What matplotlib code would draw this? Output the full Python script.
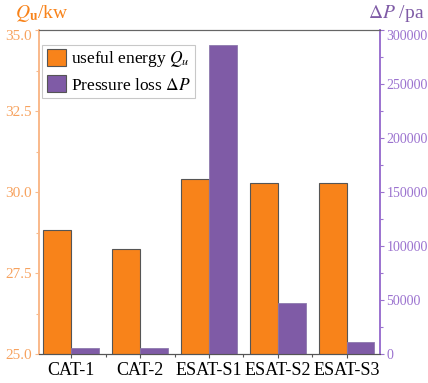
import numpy as np
import matplotlib.pyplot as plt
from matplotlib.patches import Patch

plt.rcParams["font.family"] = ["Liberation Serif", "DejaVu Serif"]
plt.rcParams["mathtext.fontset"] = "stix"

# Datos de los cinco casos
cases = ["CAT-1", "CAT-2", "ESAT-S1", "ESAT-S2", "ESAT-S3"]
useful_energy = [28.83, 28.24, 30.40, 30.27, 30.27]  # kW
pressure_loss = [5500, 5500, 286000, 47000, 11000]  # Pa

orange = "#F8831A"
purple = "#7F5BA6"
orange_axis = "#F9B98A"
orange_text = "#F7A25E"
purple_axis = "#9B72CF"
edge = "#555555"

fig = plt.figure(figsize=(4.28, 3.83), dpi=100)
ax = fig.add_axes([39 / 428, 29 / 383, 341 / 428, 324 / 383])
ax2 = ax.twinx()

x = np.arange(len(cases))
width = 0.4

ax.bar(x - width / 2, useful_energy, width, color=orange, edgecolor=edge, linewidth=0.8)
ax2.bar(x + width / 2, pressure_loss, width, color=purple, edgecolor="#8E7AAE", linewidth=0.6)

ax.set_xlim(-0.465, 4.48)
ax.set_ylim(25, 35)
ax2.set_ylim(0, 300000)

ax.set_xticks(x)
ax.set_xticklabels(cases, fontsize=13)
ax.set_xticks(x[:-1] + 0.5, minor=True)

ax.set_yticks([25.0, 27.5, 30.0, 32.5, 35.0])
ax.set_yticklabels(["25.0", "27.5", "30.0", "32.5", "35.0"], fontsize=11)
ax.set_yticks(np.arange(25, 35.1, 1.25), minor=True)
ax2.set_yticks(np.arange(0, 300001, 50000))
ax2.set_yticklabels([str(v) for v in range(0, 300001, 50000)], fontsize=10)
ax2.set_yticks(np.arange(0, 300001, 25000), minor=True)

# Etiquetas superiores bajadas como en Origin
ax.get_yticklabels()[-1].set_va("top")
ax2.get_yticklabels()[-1].set_va("top")

ax.tick_params(axis="x", which="major", length=3, width=0.8, color=edge, pad=3)
ax.tick_params(axis="x", which="minor", length=2, width=0.8, color=edge)
ax.tick_params(axis="y", which="major", length=3, width=0.8, color=orange_axis,
               labelcolor=orange_text, pad=2)
ax.tick_params(axis="y", which="minor", length=2, width=0.8, color=orange_axis)
ax2.tick_params(axis="y", which="major", length=3, width=0.8, color=purple_axis,
                labelcolor=purple_axis, pad=1.5)
ax2.tick_params(axis="y", which="minor", length=2, width=0.8, color=purple_axis)

for a in (ax, ax2):
    a.spines["top"].set_color("#666666")
    a.spines["bottom"].set_color(edge)
    a.spines["left"].set_color(orange_axis)
    a.spines["right"].set_color(purple_axis)
    a.spines["left"].set_linewidth(1.2)
    a.spines["right"].set_linewidth(1.2)

fig.text(15 / 428, 1 - 14 / 383, r"$\mathbf{\mathit{Q}_u}$/kw", color=orange,
         fontsize=14, ha="left", va="center")
fig.text(424 / 428, 1 - 14 / 383, r"$\mathrm{\Delta}\mathit{P}$ /pa", color=purple,
         fontsize=14, ha="right", va="center")

handles = [
    Patch(facecolor=orange, edgecolor=edge, linewidth=0.8),
    Patch(facecolor=purple, edgecolor=edge, linewidth=0.8),
]
labels = [r"useful energy $Q_u$", r"Pressure loss $\mathrm{\Delta}P$"]
leg = ax2.legend(handles, labels, loc="upper left", bbox_to_anchor=(0.0, 0.965),
                 fontsize=12.5, frameon=True, fancybox=False, handlelength=1.1,
                 handleheight=1.1, handletextpad=0.3, borderpad=0.25,
                 labelspacing=0.35, borderaxespad=0.2)
leg.get_frame().set_edgecolor("#BBBBBB")
leg.get_frame().set_linewidth(0.8)

fig.savefig("out.png", dpi=100)
